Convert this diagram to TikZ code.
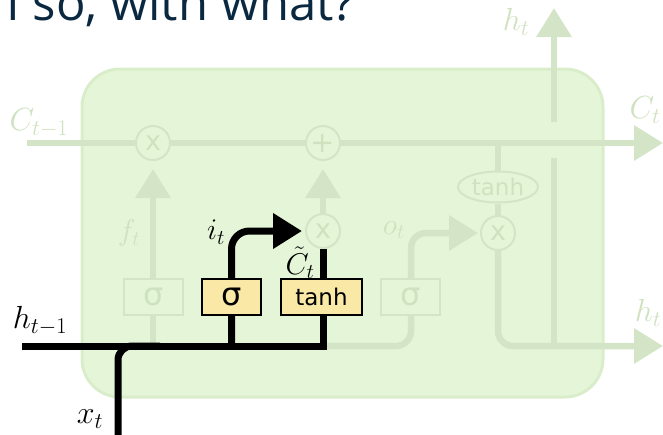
\RequirePackage{fix-cm}
\documentclass[tikz,border=0pt]{standalone}
\usepackage{fontspec}
\newfontfamily\dejavu{DejaVu Sans}
\newfontfamily\opensans{Open Sans}
\usetikzlibrary{arrows.meta,shapes.geometric}
\definecolor{fadeline}{HTML}{D3E5C6}
\definecolor{fadetext}{HTML}{CFE2C0}
\definecolor{boxfill}{HTML}{E5F6D8}
\definecolor{boxborder}{HTML}{DAEDCB}
\definecolor{gateyellow}{HTML}{FAE8A6}
\definecolor{titlecol}{HTML}{0A2840}
\pgfdeclarelayer{bottom}
\pgfdeclarelayer{lines}
\pgfsetlayers{bottom,lines,main}
\begin{document}
\begin{tikzpicture}[x=1pt,y=-1pt,
  fade/.style={draw=fadeline, line width=6.5pt},
  blk/.style={draw=black, line width=7pt},
  tip/.style={-{Triangle[length=29pt,width=34pt]}},
  gatebox/.style={draw=black, line width=2pt, fill=gateyellow, minimum height=36pt, inner sep=0pt},
  fadebox/.style={draw=fadeline, line width=2pt, fill=boxfill, minimum width=59pt, minimum height=36pt, inner sep=0pt, text=fadetext},
  op/.style={circle, draw=fadeline, line width=2pt, fill=boxfill, minimum size=34pt, inner sep=0pt, text=fadetext},
  lbl/.style={inner sep=0pt, font=\fontsize{32}{32}\selectfont},
  ilbl/.style={inner sep=0pt, font=\fontsize{30}{30}\selectfont},
  sig/.style={font=\dejavu\fontsize{32}{32}\selectfont},
  tnh/.style={font=\dejavu\fontsize{23}{23}\selectfont},
  opx/.style={font=\dejavu\fontsize{27}{27}\selectfont},
]
\useasboundingbox (0,0) rectangle (663,434);

% title
\node[anchor=base east, inner sep=0pt, font=\opensans\fontsize{49}{49}\selectfont, text=titlecol] (title) at (355,20) {I so, with what?};

% cell body
\begin{pgfonlayer}{bottom}
\node[draw=boxborder, line width=3pt, fill=boxfill, rounded corners=38pt, minimum width=521pt, minimum height=328pt, inner sep=0pt] (cell) at (342.5,233) {};
\end{pgfonlayer}

% operation nodes
\node[op, opx] (fx) at (153,143) {x};
\node[op, font=\dejavu\fontsize{29}{29}\selectfont] (plus) at (323,143) {+};
\node[op, opx] (ix) at (323,231) {x};
\node[op, opx] (ox) at (498,233) {x};
\node[ellipse, draw=fadeline, line width=2pt, fill=boxfill, minimum width=80pt, minimum height=31pt, inner sep=0pt, text=fadetext, tnh] (th) at (498,187) {tanh};

% gate boxes
\node[fadebox, sig] (sf) at (153.5,297) {σ};
\node[gatebox, sig, minimum width=59pt] (si) at (231.5,297) {σ};
\node[gatebox, tnh, minimum width=81pt] (st) at (321.5,296.5) {tanh};
\node[fadebox, sig] (so) at (410.5,297) {σ};

% coordinates
\coordinate (cin) at (27,143);
\coordinate (cout) at (663,143);
\coordinate (fbot) at (153,346);
\coordinate (hstart) at (22,346);
\coordinate (stbot) at (323,346);
\coordinate (sibot) at (231.5,346);
\coordinate (sitop) at (231.5,231);
\coordinate (xbot) at (118,440);
\coordinate (xbend) at (118,346);
\coordinate (xjoin) at (160,346);
\coordinate (sobot) at (411,346);
\coordinate (sotop) at (411,233);
\coordinate (oxbot) at (498,346);
\coordinate (hout) at (663,346);
\coordinate (thtop) at (498,143);
\coordinate (v1) at (554,346);
\coordinate (v2) at (554,158);
\coordinate (v3) at (554,122);
\coordinate (htop) at (554,8);

\begin{pgfonlayer}{lines}
% faded connectors
\draw[fade, tip] (cin) -- (cout);
\draw[fade, tip, shorten >=8pt] (fbot) -- (fx);
\draw[fade, tip, shorten >=8pt] (ix) -- (plus);
\draw[fade] (thtop) -- (th);
\draw[fade] (th) -- (ox);
\draw[fade, tip, rounded corners=15pt, shorten >=2pt] (stbot) -- (sobot) -- (sotop) -- (ox);
\draw[fade, tip, rounded corners=15pt] (ox) -- (oxbot) -- (hout);
\draw[fade] (v1) -- (v2);
\draw[fade, tip] (v3) -- (htop);
% black connectors
\draw[blk] (hstart) -- (stbot) -- (ix);
\draw[blk, rounded corners=14pt] (xbot) -- (xbend) -- (xjoin);
\draw[blk, tip, rounded corners=18pt, shorten >=3pt] (sibot) -- (sitop) -- (ix);
\end{pgfonlayer}

% labels
\node[lbl, text=fadetext] (lcin) at (39,123) {$C_{t-1}$};
\node[lbl, text=fadetext] (lcout) at (645,110) {$C_t$};
\node[lbl, text=fadetext] (lhtop) at (516,22) {$h_t$};
\node[lbl, text=fadetext] (lhout) at (648,313) {$h_t$};
\node[ilbl, text=fadetext] (lft) at (129,233) {$f_t$};
\node[ilbl, text=fadetext] (lot) at (394,230) {$o_t$};
\node[ilbl] (lit) at (216,232) {$i_t$};
\node[ilbl] (lct) at (300,263) {$\tilde{C}_t$};
\node[lbl] (lhin) at (40,321) {$h_{t-1}$};
\node[lbl] (lxt) at (90,419) {$x_t$};
\end{tikzpicture}
\end{document}
